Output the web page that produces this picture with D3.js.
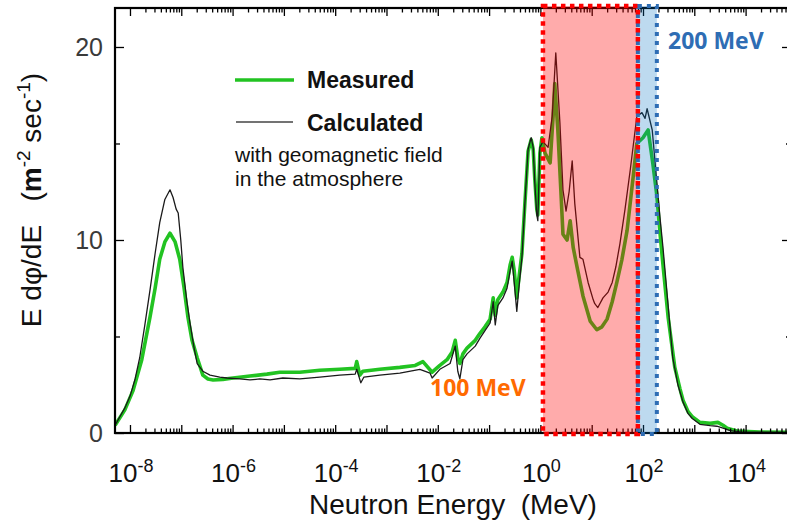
<!DOCTYPE html>
<html>
<head>
<meta charset="utf-8">
<script src="https://cdn.jsdelivr.net/npm/d3@7"></script>
<style>
  html, body { margin: 0; padding: 0; background: #fff; }
  svg { display: block; }
</style>
</head>
<body>
<svg id="chart" width="787" height="523"></svg>
<script>
// ---- Data (log10 of neutron energy in MeV, E dphi/dE in m^-2 s^-1) ----
const measuredLogE = [-8.29,-8.10,-7.94,-7.77,-7.61,-7.51,-7.42,-7.32,-7.22,-7.12,-7.03,-6.95,-6.87,-6.79,-6.69,-6.58,-6.48,-6.38,-6.19,-5.99,-5.66,-5.33,-5.08,-4.69,-4.30,-3.91,-3.61,-3.58,-3.52,-3.46,-3.13,-2.74,-2.44,-2.29,-2.11,-1.96,-1.82,-1.72,-1.66,-1.61,-1.57,-1.51,-1.43,-1.27,-1.18,-1.08,-0.98,-0.92,-0.88,-0.83,-0.73,-0.65,-0.59,-0.55,-0.51,-0.46,-0.42,-0.36,-0.30,-0.24,-0.18,-0.14,-0.11,-0.07,-0.05,-0.01,0.03,0.09,0.19,0.25,0.28,0.34,0.40,0.44,0.52,0.58,0.64,0.73,0.83,0.97,1.10,1.20,1.30,1.40,1.49,1.59,1.69,1.81,1.88,2.00,2.10,2.19,2.27,2.33,2.39,2.49,2.62,2.72,2.78,2.88,2.96,3.11,3.31,3.46,3.56,3.64,3.83,4.28,4.89];
const measuredFlux = [0.4,1.2,2.2,3.8,6.0,7.5,9.0,9.9,10.35,9.9,9.0,7.6,6.0,4.8,3.9,3.0,2.8,2.75,2.78,2.85,2.95,3.05,3.15,3.15,3.25,3.3,3.35,3.7,3.0,3.2,3.3,3.4,3.5,3.7,3.15,3.5,3.8,4.2,4.8,3.9,3.6,4.1,4.4,4.8,5.15,5.5,5.9,7.0,6.1,6.9,7.3,7.8,8.7,9.1,8.4,7.0,8.0,9.3,12.0,14.6,15.2,14.7,13.2,11.6,11.3,14.5,15.3,14.5,14.0,16.5,18.1,15.7,12.5,10.3,10.0,11.0,9.6,8.4,7.1,5.8,5.35,5.5,5.9,6.8,7.8,9.0,10.5,13.3,15.0,15.3,15.7,14.0,12.3,10.4,8.7,6.0,3.4,2.3,1.7,1.1,0.85,0.55,0.5,0.55,0.4,0.25,0.1,0.05,0.03];

const calculatedLogE = [-8.29,-8.10,-8.00,-7.90,-7.81,-7.71,-7.61,-7.51,-7.42,-7.32,-7.22,-7.16,-7.10,-7.06,-7.01,-6.97,-6.89,-6.83,-6.75,-6.69,-6.58,-6.44,-6.25,-6.11,-5.86,-5.66,-5.47,-5.27,-5.02,-4.69,-4.30,-3.91,-3.61,-3.58,-3.50,-3.44,-3.13,-2.74,-2.35,-2.15,-2.11,-1.96,-1.76,-1.66,-1.61,-1.57,-1.51,-1.43,-1.27,-1.18,-1.08,-0.98,-0.92,-0.88,-0.83,-0.73,-0.65,-0.59,-0.55,-0.51,-0.46,-0.42,-0.36,-0.30,-0.24,-0.18,-0.14,-0.11,-0.07,-0.05,-0.01,0.05,0.15,0.23,0.30,0.38,0.44,0.50,0.56,0.62,0.67,0.77,0.83,0.93,1.03,1.06,1.12,1.22,1.32,1.40,1.47,1.55,1.65,1.75,1.88,1.98,2.04,2.08,2.18,2.27,2.33,2.39,2.49,2.58,2.68,2.78,2.88,2.96,3.11,3.31,3.44,3.56,3.70,3.89,4.28,4.89];
const calculatedFlux = [0.4,1.3,1.9,2.8,3.9,5.6,7.4,9.3,10.9,12.1,12.6,12.2,11.6,11.4,10.0,8.6,6.8,5.7,4.4,3.6,3.2,3.0,2.9,2.85,2.8,2.75,2.8,2.75,2.85,2.8,2.9,3.0,3.05,3.3,2.6,2.9,3.0,3.1,3.3,3.1,2.85,3.3,3.6,4.5,3.2,2.8,3.8,4.1,4.5,4.9,5.3,5.7,6.8,5.6,6.6,7.0,7.5,8.4,8.9,7.8,6.3,7.5,9.1,12.0,14.7,15.3,14.8,13.0,11.3,11.0,14.8,15.1,14.8,16.4,19.7,16.1,12.6,11.5,12.5,14.1,11.9,9.1,9.0,7.8,6.9,6.7,6.5,7.0,7.3,7.8,8.6,9.8,11.6,13.6,16.4,16.6,16.3,16.8,15.7,13.0,11.2,9.6,6.6,3.9,2.5,1.6,1.0,0.75,0.45,0.38,0.35,0.25,0.12,0.06,0.04,0.03];

const yTicksMajor = [0, 10, 20];
const yTicksMinor = [5, 15];
const xDecades = [-8,-7,-6,-5,-4,-3,-2,-1,0,1,2,3,4];
const xLabelExps = [-8,-6,-4,-2,0,2,4];
const bandRed = [0.05, 1.90];   // log10 MeV (~1 MeV to ~100 MeV)
const bandBlue = [1.90, 2.27];  // log10 MeV (~100 MeV to ~200 MeV)
const legendLabels = ["Measured", "Calculated"];
const legendNote = ["with geomagnetic field", "in the atmosphere"];

// ---- Layout ----
const svg = d3.select("#chart");
const L = 115, T = 8, R = 791, B = 433;
const x = d3.scaleLog().domain([Math.pow(10,-8.292), Math.pow(10,4.885)]).range([L, R]);
const y = d3.scaleLinear().domain([0, 22.02]).range([B, T]);
const FONT = "'Liberation Sans', Arial, Helvetica, sans-serif";

const measured = measuredLogE.map((e,i)=>({E:Math.pow(10,e), v:measuredFlux[i]}));
const calculated = calculatedLogE.map((e,i)=>({E:Math.pow(10,e), v:calculatedFlux[i]}));

const line = d3.line().x(d=>x(d.E)).y(d=>y(d.v));

const clip = svg.append("clipPath").attr("id","clip").append("rect")
  .attr("x",L).attr("y",T).attr("width",R-L).attr("height",B-T);

const plot = svg.append("g").attr("clip-path","url(#clip)");
plot.append("path").datum(measured).attr("d",line)
  .attr("fill","none").attr("stroke","#22c322").attr("stroke-width",3.6)
  .attr("stroke-linejoin","round");
plot.append("path").datum(calculated).attr("d",line)
  .attr("fill","none").attr("stroke","#1a1a1a").attr("stroke-width",1.3)
  .attr("stroke-linejoin","round");

// ---- Axes (ticks inside) ----
const minorX = [];
xDecades.forEach(d=>{ for(let k=2;k<=9;k++){ const v=k*Math.pow(10,d); if(v<=x.domain()[1] && v>=x.domain()[0]) minorX.push(v);} });
const majX = xDecades.map(d=>Math.pow(10,d));

function styleAxis(g){ g.select(".domain").remove(); g.selectAll("line").attr("stroke","#000").attr("stroke-width",1.3); g.selectAll("text").remove(); }

svg.append("g").attr("transform",`translate(0,${B})`).call(d3.axisBottom(x).tickValues(majX).tickSize(-8)).call(styleAxis);
svg.append("g").attr("transform",`translate(0,${B})`).call(d3.axisBottom(x).tickValues(minorX).tickSize(-4.5)).call(styleAxis);
svg.append("g").attr("transform",`translate(0,${T})`).call(d3.axisTop(x).tickValues(majX).tickSize(-8)).call(styleAxis);
svg.append("g").attr("transform",`translate(0,${T})`).call(d3.axisTop(x).tickValues(minorX).tickSize(-4.5)).call(styleAxis);
svg.append("g").attr("transform",`translate(${L},0)`).call(d3.axisLeft(y).tickValues(yTicksMajor).tickSize(-9)).call(styleAxis);
svg.append("g").attr("transform",`translate(${L},0)`).call(d3.axisLeft(y).tickValues(yTicksMinor).tickSize(-5)).call(styleAxis);
svg.append("g").attr("transform",`translate(${R},0)`).call(d3.axisRight(y).tickValues(yTicksMajor).tickSize(-9)).call(styleAxis);
svg.append("g").attr("transform",`translate(${R},0)`).call(d3.axisRight(y).tickValues(yTicksMinor).tickSize(-5)).call(styleAxis);

svg.append("rect").attr("x",L).attr("y",T).attr("width",R-L).attr("height",B-T)
  .attr("fill","none").attr("stroke","#000").attr("stroke-width",2.2);

// ---- Highlight bands (translucent overlays) ----
const bandTop = T-2, bandBot = B+1;
svg.append("rect").attr("x",x(Math.pow(10,bandRed[0]))).attr("y",bandTop)
  .attr("width",x(Math.pow(10,bandRed[1]))-x(Math.pow(10,bandRed[0]))).attr("height",bandBot-bandTop)
  .attr("fill","rgb(255,0,0)").attr("fill-opacity",0.33);
svg.append("rect").attr("x",x(Math.pow(10,bandBlue[0]))).attr("y",bandTop)
  .attr("width",x(Math.pow(10,bandBlue[1]))-x(Math.pow(10,bandBlue[0]))).attr("height",bandBot-bandTop)
  .attr("fill","rgb(0,112,192)").attr("fill-opacity",0.26);
svg.append("rect").attr("x",x(Math.pow(10,bandBlue[0]))).attr("y",bandTop)
  .attr("width",x(Math.pow(10,bandBlue[1]))-x(Math.pow(10,bandBlue[0]))).attr("height",bandBot-bandTop)
  .attr("fill","none").attr("stroke","#2e6db4").attr("stroke-width",4).attr("stroke-dasharray","4 5");
svg.append("rect").attr("x",x(Math.pow(10,bandRed[0]))).attr("y",bandTop)
  .attr("width",x(Math.pow(10,bandRed[1]))-x(Math.pow(10,bandRed[0]))).attr("height",bandBot-bandTop)
  .attr("fill","none").attr("stroke","#ff0000").attr("stroke-width",4.5).attr("stroke-dasharray","4.5 4.5");

// ---- Tick labels ----
const xl = svg.append("g").attr("font-family",FONT).attr("fill","#111");
xLabelExps.forEach(e=>{
  const t = xl.append("text").attr("x",x(Math.pow(10,e))+1).attr("y",482)
    .attr("text-anchor","middle").attr("font-size",26);
  t.append("tspan").text("10");
  t.append("tspan").attr("dy",-10).attr("font-size",18).text(String(e));
});
const yl = svg.append("g").attr("font-family",FONT).attr("fill","#3a3a3a");
yTicksMajor.forEach(v=>{
  yl.append("text").attr("x",103).attr("y",y(v)+9).attr("text-anchor","end")
    .attr("font-size",25).text(v);
});

// ---- Axis titles ----
svg.append("text").attr("x",453).attr("y",514).attr("text-anchor","middle")
  .attr("font-family",FONT).attr("font-size",28).attr("fill","#111")
  .text("Neutron Energy  (MeV)").style("white-space","pre");

const yt = svg.append("text").attr("transform","translate(41,200) rotate(-90)")
  .attr("text-anchor","middle").attr("font-family",FONT).attr("font-size",28).attr("fill","#111")
  .style("white-space","pre");
yt.append("tspan").text("E dφ/dE   (");
yt.append("tspan").attr("font-weight","bold").text("m");
yt.append("tspan").attr("dy",-11).attr("font-size",19).text("-2");
yt.append("tspan").attr("dy",11).text(" sec");
yt.append("tspan").attr("dy",-11).attr("font-size",19).text("-1");
yt.append("tspan").attr("dy",11).text(")");

// ---- Legend ----
const lg = svg.append("g").attr("font-family",FONT).attr("fill","#111");
lg.append("line").attr("x1",235).attr("x2",294).attr("y1",80).attr("y2",80)
  .attr("stroke","#22c322").attr("stroke-width",3.6);
lg.append("line").attr("x1",236).attr("x2",293).attr("y1",122).attr("y2",122)
  .attr("stroke","#444").attr("stroke-width",1.5);
lg.append("text").attr("x",307).attr("y",88).attr("font-size",23).attr("font-weight","bold").text(legendLabels[0]);
lg.append("text").attr("x",307).attr("y",131).attr("font-size",23).attr("font-weight","bold").text(legendLabels[1]);
lg.append("text").attr("x",235).attr("y",162).attr("font-size",21).text(legendNote[0]);
lg.append("text").attr("x",235).attr("y",186).attr("font-size",21).text(legendNote[1]);

// ---- Band annotations ----
svg.append("text").attr("x",430).attr("y",396).attr("font-family","'Open Sans', sans-serif")
  .attr("font-weight","bold").attr("font-size",23).attr("fill","#ff6a00").text("100 MeV");
svg.append("text").attr("x",668).attr("y",49).attr("font-family","'Open Sans', sans-serif")
  .attr("font-weight","bold").attr("font-size",23).attr("fill","#2e6db4").text("200 MeV");
</script>
</body>
</html>
